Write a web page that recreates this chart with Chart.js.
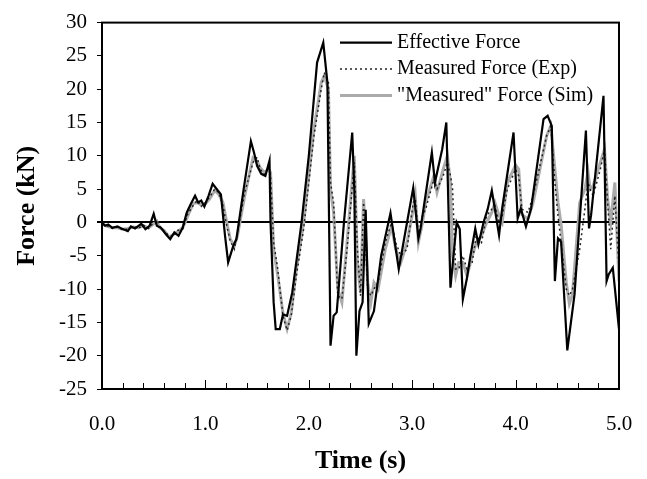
<!DOCTYPE html>
<html>
<head>
<meta charset="utf-8">
<script src="https://cdn.jsdelivr.net/npm/chart.js@4.4.0/dist/chart.umd.min.js"></script>
<style>
  html, body { margin: 0; padding: 0; background: #fff; }
  #wrap { width: 647px; height: 479px; }
</style>
</head>
<body>
<div id="wrap"><canvas id="chart" width="647" height="479"></canvas></div>
<script>
// series labels
const seriesNames = ['Effective Force', 'Measured Force (Exp)', '"Measured" Force (Sim)'];

// effective force
const effTime = [0.00, 0.03, 0.06, 0.10, 0.15, 0.20, 0.25, 0.28, 0.32, 0.38, 0.42, 0.46, 0.50, 0.53, 0.57,
  0.62, 0.66, 0.70, 0.74, 0.78, 0.82, 0.86, 0.90, 0.93, 0.96, 0.99, 1.03, 1.07, 1.12, 1.15,
  1.19, 1.22, 1.27, 1.30, 1.37, 1.44, 1.47, 1.50, 1.54, 1.58, 1.62, 1.63, 1.66, 1.68, 1.72,
  1.75, 1.79, 1.84, 1.93, 2.00, 2.08, 2.14, 2.18, 2.20, 2.21, 2.24, 2.27, 2.34, 2.42, 2.44,
  2.46, 2.49, 2.52, 2.55, 2.58, 2.63, 2.70, 2.79, 2.87, 2.95, 3.01, 3.06, 3.08, 3.19, 3.22,
  3.29, 3.33, 3.37, 3.43, 3.46, 3.49, 3.53, 3.56, 3.61, 3.64, 3.69, 3.73, 3.77, 3.81, 3.84,
  3.87, 3.98, 4.02, 4.05, 4.10, 4.15, 4.27, 4.31, 4.35, 4.38, 4.41, 4.44, 4.50, 4.57, 4.68,
  4.71, 4.73, 4.85, 4.88, 4.90, 4.94, 5.00];
const effForce = [0, -0.5, -0.3, -0.8, -0.6, -1.0, -1.3, -0.6, -0.9, -0.2, -1.0, -0.5, 1.3, -0.5, -0.8,
  -1.8, -2.5, -1.5, -2.0, -0.8, 1.5, 2.8, 4.0, 3.0, 3.3, 2.4, 4.0, 5.8, 4.8, 4.2,
  -2.0, -6.0, -3.5, -2.5, 5, 12.2, 10.5, 8.5, 7.3, 7.0, 9.3, 0, -12, -16, -16,
  -13.8, -14, -10.5, 0, 10, 24, 27, 21, -5, -18.5, -14, -13.5, 0, 13.5, 5,
  -20, -13.3, -12, 1.9, -15.2, -13.3, -5, 1.4, -7, 0, 5.2, -2.4, -1, 10.5, 6,
  11, 15, -9.8, 0, -1, -11.5, -8.3, -5.3, -0.9, -3.3, 0, 2, 4.8, 1, -1.9,
  2.1, 13.5, 0.6, 2.1, -0.6, 2.1, 15.5, 16, 14.5, -8.8, -2.4, -2.9, -19.2, -10.8, 13.8,
  -0.9, 1.1, 19, -8.8, -7.8, -6.8, -16];

// measured forces share one time grid
const measTime = [0.00, 0.05, 0.10, 0.15, 0.20, 0.25, 0.30, 0.35, 0.40, 0.45, 0.50, 0.53, 0.56, 0.60, 0.65,
  0.69, 0.73, 0.78, 0.83, 0.88, 0.92, 0.96, 1.00, 1.04, 1.09, 1.13, 1.17, 1.20, 1.24, 1.28,
  1.31, 1.38, 1.46, 1.50, 1.53, 1.57, 1.61, 1.63, 1.66, 1.70, 1.75, 1.79, 1.83, 1.88, 1.95,
  2.05, 2.12, 2.15, 2.19, 2.21, 2.24, 2.28, 2.32, 2.37, 2.44, 2.47, 2.50, 2.53, 2.57, 2.60,
  2.63, 2.67, 2.74, 2.80, 2.84, 2.89, 2.95, 3.01, 3.03, 3.06, 3.10, 3.13, 3.21, 3.24, 3.30,
  3.34, 3.37, 3.39, 3.42, 3.45, 3.49, 3.53, 3.58, 3.62, 3.67, 3.72, 3.77, 3.80, 3.84, 3.87,
  3.92, 4.00, 4.03, 4.06, 4.12, 4.17, 4.30, 4.34, 4.38, 4.41, 4.44, 4.49, 4.52, 4.55, 4.62,
  4.67, 4.70, 4.72, 4.75, 4.82, 4.86, 4.89, 4.92, 4.96, 5.00];
const expForce = [-0.3, -0.5, -0.9, -0.7, -1.1, -1.0, -0.6, -0.9, -0.4, -0.9, 0.0, 0.4, -0.6, -1.3, -2.0,
  -2.1, -1.2, -1.0, 1.3, 2.5, 3.3, 2.4, 3.0, 3.8, 5.0, 4.5, 2.5, 0, -2.8, -4.0,
  -1.5, 4.5, 9.0, 9.8, 8.0, 7.2, 8.3, 7.0, -3, -7, -14, -16.2, -14, -8, -1,
  13, 20, 22.5, 21, 6, 3, -11, -11.5, -4, 9, -4, -11, 3, -10, -11,
  -10, -9, -3, 0, -3, -5, -4, 3, 3.5, -2, 1, 2, 6.5, 5, 7,
  9, 7, 5.3, -7, -7, -5, -7, -6, -2, -3, 1, 2, 2.5, 0, 1,
  5, 8, 7, 2, 1.5, 4, 13, 14.5, 6, 1, -3, -10, -11, -10, -4,
  2, 6, 5, 4, 8, 11, 3, -4, 4, -7];
const simForce = [-0.2, -0.6, -0.8, -0.8, -1.0, -0.9, -0.7, -0.8, -0.5, -0.8, -0.2, 0.2, -0.8, -1.2, -2.2,
  -1.8, -1.4, -0.8, 1.0, 2.8, 3.0, 2.6, 2.8, 3.5, 4.8, 4.2, 3.0, 0.5, -2.5, -3.5,
  -2.0, 4, 9.7, 9.2, 8.2, 7.5, 8.0, 7.5, -4, -8, -13.6, -16, -13.6, -7, 0,
  14, 21, 22, 20, 5, 1.5, -10, -12, -3, 10, -6, -10.5, 3.5, -9, -12,
  -9, -10, -4, -0.5, -4, -6, -3, 2, 4, -3, 0, 3, 7, 4.5, 8,
  10, 6, -5, -8, -6, -6, -8, -5, -3, -2, 0, 1.5, 3, 1, 0,
  6, 8.6, 8, 1.2, 0.5, 3, 13, 14.5, 8, 3, -0.3, -9, -12.2, -10.8, 3,
  5, 7.6, 5, 5.5, 9, 11, 3.6, 0, 6, -8.8];

// axis ticks
const xMin = 0, xMax = 5, xStep = 0.2;
const yMin = -25, yMax = 30, yStep = 5;

function pts(ts, vs) {
  return ts.map((t, i) => ({ x: t, y: vs[i] }));
}

const serif = "'Liberation Serif', 'Times New Roman', serif";

// box round the plot and inner x ticks
const frame = {
  id: 'frame',
  afterDraw(chart) {
    const ctx = chart.ctx;
    const a = chart.chartArea;
    const xs = chart.scales.x;
    ctx.save();
    ctx.strokeStyle = '#000';
    ctx.lineWidth = 1;
    xs.ticks.forEach(t => {
      const px = Math.round(xs.getPixelForValue(t.value)) + 0.5;
      const big = Math.abs(t.value - Math.round(t.value)) < 1e-6;
      ctx.beginPath();
      ctx.moveTo(px, a.bottom);
      ctx.lineTo(px, a.bottom - (big ? 9 : 6));
      ctx.stroke();
    });
    ctx.lineWidth = 2;
    ctx.strokeRect(a.left, a.top, a.right - a.left, a.bottom - a.top);
    ctx.restore();
  }
};

// legend inside the plot, top right
const innerLegend = {
  id: 'innerLegend',
  afterDraw(chart) {
    const ctx = chart.ctx;
    const a = chart.chartArea;
    const x0 = a.left + 238, x1 = x0 + 52;
    let y = a.top + 20;
    ctx.save();
    ctx.font = '20px ' + serif;
    ctx.textBaseline = 'middle';
    ctx.fillStyle = '#000';
    chart.data.datasets.forEach(ds => {
      ctx.beginPath();
      ctx.strokeStyle = ds.borderColor;
      ctx.lineWidth = ds.borderWidth;
      ctx.setLineDash(ds.borderDash || []);
      ctx.moveTo(x0, y);
      ctx.lineTo(x1, y);
      ctx.stroke();
      ctx.setLineDash([]);
      ctx.fillText(ds.label, x1 + 5, y);
      y += 26.5;
    });
    ctx.restore();
  }
};

new Chart(document.getElementById('chart'), {
  type: 'line',
  data: {
    datasets: [
      {
        label: seriesNames[0],
        data: pts(effTime, effForce),
        borderColor: '#000',
        borderWidth: 2.2,
        pointRadius: 0,
        tension: 0
      },
      {
        label: seriesNames[1],
        data: pts(measTime, expForce),
        borderColor: '#222',
        borderWidth: 1.5,
        borderDash: [2, 3],
        pointRadius: 0,
        tension: 0
      },
      {
        label: seriesNames[2],
        data: pts(measTime, simForce),
        borderColor: '#ababab',
        borderWidth: 3,
        pointRadius: 0,
        tension: 0
      }
    ]
  },
  options: {
    responsive: false,
    animation: false,
    layout: { padding: { left: 0, top: 19, right: 28, bottom: 0 } },
    plugins: {
      legend: { display: false },
      tooltip: { enabled: false }
    },
    scales: {
      x: {
        type: 'linear',
        min: xMin,
        max: xMax,
        afterFit(s) {
          s.height = 90;
          s.paddingLeft = 0;
          s.paddingRight = 0;
        },
        ticks: {
          stepSize: xStep,
          autoSkip: false,
          maxRotation: 0,
          padding: 23,
          color: '#000',
          font: { family: serif, size: 21 },
          callback: v => Math.abs(v - Math.round(v)) < 1e-6 ? Number(v).toFixed(1) : ''
        },
        grid: { drawOnChartArea: false, drawTicks: false },
        border: { display: false },
        title: {
          display: true,
          text: 'Time (s)',
          color: '#000',
          font: { family: serif, size: 26, weight: 'bold' },
          padding: { top: 7, bottom: 2 }
        }
      },
      y: {
        min: yMin,
        max: yMax,
        afterFit(s) { s.width = 102; },
        ticks: {
          stepSize: yStep,
          padding: 10,
          color: '#000',
          font: { family: serif, size: 21 }
        },
        grid: {
          color: c => c.tick && c.tick.value === 0 ? '#000' : 'rgba(0,0,0,0)',
          lineWidth: c => c.tick && c.tick.value === 0 ? 2 : 1,
          tickColor: '#000',
          tickLength: 5
        },
        border: { display: false },
        title: {
          display: true,
          text: 'Force (kN)',
          color: '#000',
          font: { family: serif, size: 26, weight: 'bold' },
          padding: { top: 12, bottom: 4 }
        }
      }
    }
  },
  plugins: [frame, innerLegend]
});
</script>
</body>
</html>
